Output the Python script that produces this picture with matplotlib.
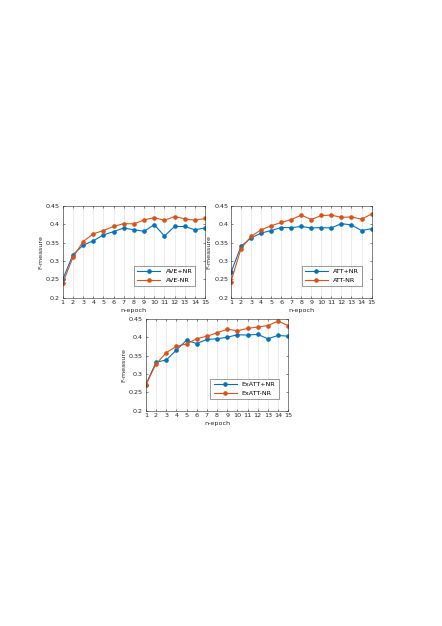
import matplotlib
matplotlib.use("Agg")
import matplotlib.pyplot as plt

# ---- data ----
epochs = list(range(1, 16))

ave_nr_pos = [0.250, 0.317, 0.343, 0.355, 0.371, 0.380, 0.390, 0.385, 0.381,
              0.399, 0.368, 0.394, 0.394, 0.385, 0.390]
ave_nr_neg = [0.240, 0.310, 0.353, 0.374, 0.383, 0.394, 0.402, 0.401, 0.412,
              0.418, 0.411, 0.421, 0.415, 0.411, 0.416]

att_nr_pos = [0.269, 0.340, 0.363, 0.376, 0.383, 0.391, 0.391, 0.394, 0.390,
              0.391, 0.390, 0.402, 0.398, 0.383, 0.388]
att_nr_neg = [0.244, 0.334, 0.367, 0.385, 0.396, 0.405, 0.413, 0.425, 0.413,
              0.424, 0.425, 0.419, 0.420, 0.414, 0.428]

exatt_nr_pos = [0.271, 0.332, 0.338, 0.365, 0.392, 0.383, 0.394, 0.396, 0.400,
                0.407, 0.406, 0.408, 0.396, 0.405, 0.403]
exatt_nr_neg = [0.271, 0.327, 0.358, 0.375, 0.382, 0.396, 0.403, 0.412, 0.422,
                0.418, 0.424, 0.428, 0.432, 0.444, 0.432]

yticks = [0.2, 0.25, 0.3, 0.35, 0.4, 0.45]
ytick_labels = ["0.2", "0.25", "0.3", "0.35", "0.4", "0.45"]

BLUE = "#0072BD"
ORANGE = "#D95319"
FS = 4.6

fig = plt.figure(figsize=(4.42, 6.26), dpi=100)


def panel(rect, pos, neg, labels):
    ax = fig.add_axes(rect)
    ax.plot(epochs, pos, "-o", color=BLUE, lw=0.8, ms=2.3, label=labels[0])
    ax.plot(epochs, neg, "-o", color=ORANGE, lw=0.8, ms=2.3, label=labels[1])
    ax.set_xlim(1, 15)
    ax.set_ylim(0.2, 0.45)
    ax.set_xticks(epochs)
    ax.set_xticklabels([str(e) for e in epochs])
    ax.set_yticks(yticks)
    ax.set_yticklabels(ytick_labels)
    ax.grid(axis="x", color="#e6e6e6", lw=0.6)
    ax.set_axisbelow(True)
    ax.tick_params(direction="in", length=1.5, width=0.4, labelsize=FS,
                   colors="#262626", pad=2, top=True, right=True)
    for s in ax.spines.values():
        s.set_linewidth(0.4)
        s.set_color("#262626")
    ax.set_xlabel("n-epoch", fontsize=FS, color="#262626", labelpad=1.5)
    ax.set_ylabel("F-measure", fontsize=FS, color="#262626", labelpad=2)
    leg = ax.legend(loc="lower right", fontsize=FS, frameon=True, fancybox=False,
                    edgecolor="#262626", handlelength=3.6, borderpad=0.5,
                    labelspacing=0.5, bbox_to_anchor=(0.955, 0.09))
    leg.get_frame().set_linewidth(0.4)
    return ax


panel([0.142, 0.5245, 0.322, 0.1465], ave_nr_pos, ave_nr_neg, ["AVE+NR", "AVE-NR"])
panel([0.5226, 0.5245, 0.318, 0.1465], att_nr_pos, att_nr_neg, ["ATT+NR", "ATT-NR"])
panel([0.330, 0.344, 0.322, 0.1465], exatt_nr_pos, exatt_nr_neg, ["ExATT+NR", "ExATT-NR"])

fig.savefig("out.png", dpi=100)
